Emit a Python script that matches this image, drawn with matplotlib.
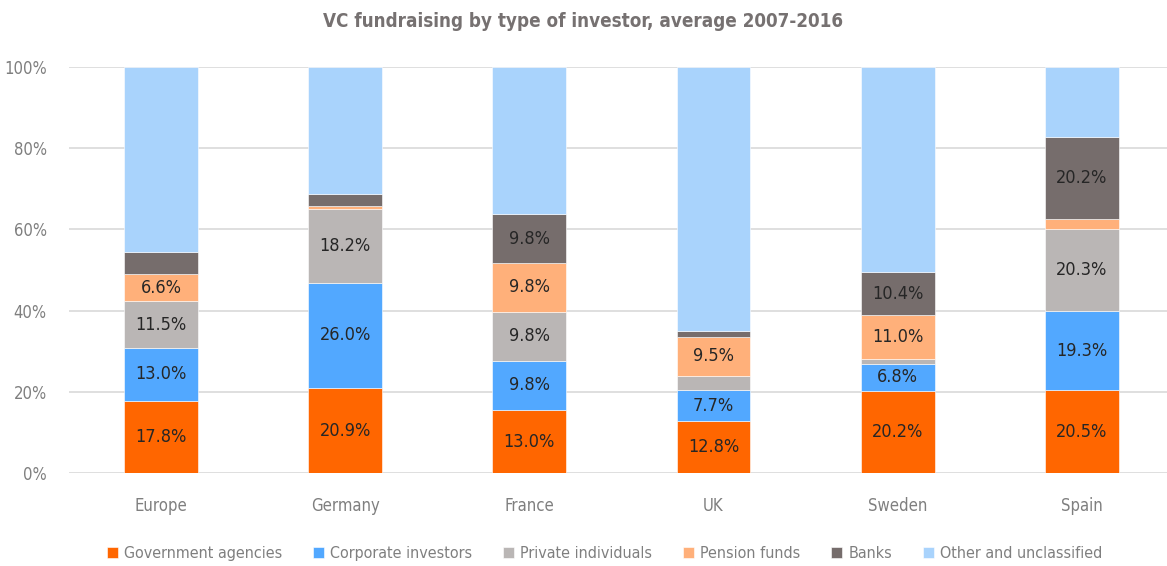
import numpy as np
import matplotlib.pyplot as plt

#%% Data

countries = ["Europe", "Germany", "France", "UK", "Sweden", "Spain"]
series_names = ["Government agencies", "Corporate investors", "Private individuals",
                "Pension funds", "Banks", "Other and unclassified"]

# segment heights [%]
government = [17.8, 20.9, 15.6, 12.8, 20.2, 20.5]
corporate = [13.0, 26.0, 12.0, 7.7, 6.8, 19.3]
private = [11.5, 18.2, 12.1, 3.5, 1.0, 20.3]
pension = [6.6, 0.7, 12.0, 9.5, 11.0, 2.5]
banks = [5.5, 3.0, 12.0, 1.6, 10.4, 20.2]
other = [45.6, 31.2, 36.3, 64.9, 50.6, 17.2]

# label text printed in the segments (None = no label)
government_lbl = ["17.8%", "20.9%", "13.0%", "12.8%", "20.2%", "20.5%"]
corporate_lbl = ["13.0%", "26.0%", "9.8%", "7.7%", "6.8%", "19.3%"]
private_lbl = ["11.5%", "18.2%", "9.8%", None, None, "20.3%"]
pension_lbl = ["6.6%", None, "9.8%", "9.5%", "11.0%", None]
banks_lbl = [None, None, "9.8%", None, "10.4%", "20.2%"]
other_lbl = [None] * 6

colors = ["#FF6600", "#52A8FF", "#BAB6B5", "#FFB07A", "#766D6C", "#A9D3FC"]

#%% Plot

plt.rcParams['font.family'] = ['DejaVu Sans']
plt.rcParams['font.stretch'] = 'condensed'

fig = plt.figure(figsize=(11.67, 5.66), dpi=100)
ax = fig.add_axes([0.059, 0.1638, 0.947, 0.7184])

x = np.arange(len(countries))
bottom = np.zeros(len(countries))
data = [government, corporate, private, pension, banks, other]
labels = [government_lbl, corporate_lbl, private_lbl, pension_lbl, banks_lbl, other_lbl]

for vals, lbls, name, col in zip(data, labels, series_names, colors):
    vals = np.array(vals)
    ax.bar(x, vals, 0.4, bottom=bottom, color=col, label=name,
           edgecolor='white', linewidth=0.4, zorder=3)
    for i, t in enumerate(lbls):
        if t is not None:
            ax.text(x[i], bottom[i] + vals[i] / 2, t, ha='center', va='center',
                    fontsize=13, color='#262626', zorder=4)
    bottom += vals

ax.set_xlim(-0.5, 5.5)
ax.set_ylim(0, 100)
ax.set_yticks(np.arange(0, 101, 20))
ax.set_yticklabels([f"{v}%" for v in range(0, 101, 20)])
ax.set_xticks(x)
ax.set_xticklabels(countries)
ax.tick_params(axis='both', length=0, labelsize=12, colors='#7F7F7F')
ax.tick_params(axis='x', pad=17)
ax.tick_params(axis='y', pad=16)
ax.grid(axis='y', color='#D9D9D9', linewidth=1.2, zorder=0)
for s in ax.spines.values():
    s.set_visible(False)

fig.text(0.5, 0.962, "VC fundraising by type of investor, average 2007-2016",
         ha='center', va='center', fontsize=13.5, fontweight='bold', color='#767171')

fig.legend(loc='center', bbox_to_anchor=(0.518, 0.022), ncol=6, frameon=False,
           fontsize=11.5, labelcolor='#7F7F7F', handlelength=0.7, handleheight=0.7,
           handletextpad=0.4, columnspacing=1.9)

plt.savefig("out.png")
